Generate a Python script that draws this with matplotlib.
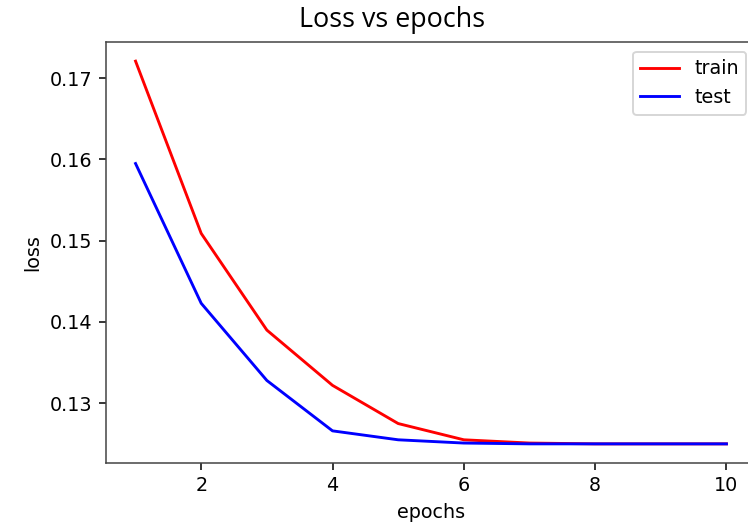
import matplotlib
matplotlib.use("Agg")
import matplotlib.pyplot as plt

epochs = [1, 2, 3, 4, 5, 6, 7, 8, 9, 10]
train_loss = [0.1721, 0.1509, 0.1390, 0.1322, 0.1275, 0.1255, 0.1251, 0.1250, 0.1250, 0.1250]
test_loss = [0.1595, 0.1423, 0.1328, 0.1266, 0.1255, 0.1251, 0.1250, 0.1250, 0.1250, 0.1250]

# reference looks like a 72dpi notebook figure blown up ~1.38x
DPI = 138
fig = plt.figure(figsize=(748/DPI, 524/DPI), dpi=DPI)
ax = fig.add_axes([106/748, 1 - 463/524, 650/748, 421/524])

ax.plot(epochs, train_loss, color="red", label="train")
ax.plot(epochs, test_loss, color="blue", label="test")

ax.set_xlabel("epochs")
ax.set_ylabel("loss")
ax.set_xticks([2, 4, 6, 8, 10])
ax.set_yticks([0.13, 0.14, 0.15, 0.16, 0.17])
ax.legend(loc="upper right")

for s in ax.spines.values():
    s.set_color("#444444")

fig.text(392/748, 1 - 20/524, "Loss vs epochs", ha="center", va="center",
         fontsize=14, family="Open Sans")

fig.savefig("out.png", dpi=DPI)
